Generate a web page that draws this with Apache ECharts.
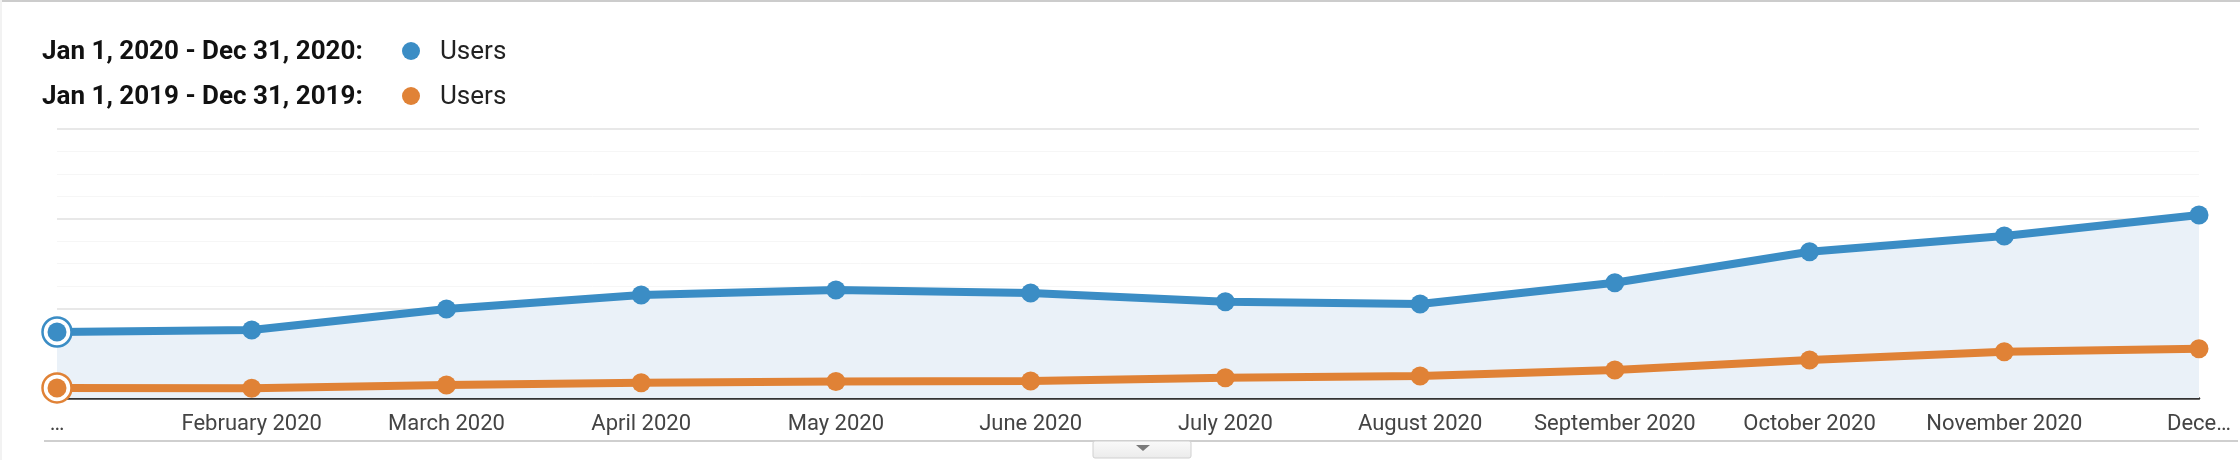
<!DOCTYPE html>
<html>
<head>
<meta charset="utf-8">
<script src="https://cdn.jsdelivr.net/npm/echarts@6/dist/echarts.min.js"></script>
<style>
html,body{margin:0;padding:0;background:#fff;}
#chart{width:2240px;height:460px;}
</style>
</head>
<body>
<div id="chart"></div>
<script>
// months on the x axis
var months = ['January 2020','February 2020','March 2020','April 2020','May 2020','June 2020',
	'July 2020','August 2020','September 2020','October 2020','November 2020','December 2020'];
// users, current year (axis scale has no labels)
var users2020 = [73.6, 75.8, 99.3, 114.9, 120.4, 117.2, 107.4, 104.8, 128.6, 163.1, 180.6, 204.1];
// users, previous year
var users2019 = [11.2, 10.8, 14.5, 17.1, 18.5, 19.0, 22.6, 24.5, 31.2, 42.4, 51.6, 55.0];
var legendRanges = ['Jan 1, 2020 - Dec 31, 2020:', 'Jan 1, 2019 - Dec 31, 2019:'];
var metricName = 'Users';

var blue = '#3b8dc5', orange = '#e08236';
var font = 'Roboto, "Noto Sans", sans-serif';

var chart = echarts.init(document.getElementById('chart'));

function legendRow(y, label, color){
	return [
		{type:'text', left:42, top:y-12, style:{text:label, font:'bold 26px ' + font, fill:'#111'}},
		{type:'circle', shape:{cx:411, cy:y, r:9}, style:{fill:color}},
		{type:'text', left:440, top:y-12, style:{text:metricName, font:'26px ' + font, fill:'#222'}}
	];
}

var option = {
	backgroundColor:'#fff',
	animation:false,
	grid:{left:57, right:41, top:129, bottom:62},
	xAxis:{
		type:'category',
		boundaryGap:false,
		data:months,
		axisLine:{lineStyle:{color:'#333', width:2.5}},
		axisTick:{show:false},
		splitLine:{show:false},
		axisLabel:{
			interval:0,
			margin:15,
			color:'#444',
			fontFamily:font,
			fontSize:22,
			formatter:function(v, i){
				if(i == 0) return '\u2026';
				if(i == months.length-1) return v.substring(0,4) + '\u2026';
				return v;
			}
		}
	},
	yAxis:{
		type:'value',
		min:0, max:300, interval:100,
		axisLabel:{show:false},
		axisLine:{show:false},
		axisTick:{show:false},
		splitLine:{lineStyle:{color:'#e8e8e8', width:2}},
		minorTick:{show:false, splitNumber:4},
		minorSplitLine:{show:true, lineStyle:{color:'#f6f6f6', width:1}}
	},
	series:[
		{
			type:'line',
			data:users2020.map(function(v, i){
				if(i == 0) return {value:v, symbolSize:29, itemStyle:{color:'#fff', borderColor:blue, borderWidth:2.5}};
				return v;
			}),
			symbol:'circle', symbolSize:19,
			lineStyle:{color:blue, width:8},
			itemStyle:{color:blue},
			areaStyle:{color:'#eaf1f8', opacity:1},
			z:2
		},
		{
			type:'line',
			data:users2019.map(function(v, i){
				if(i == 0) return {value:v, symbolSize:29, itemStyle:{color:'#fff', borderColor:orange, borderWidth:2.5}};
				return v;
			}),
			symbol:'circle', symbolSize:19,
			lineStyle:{color:orange, width:8},
			itemStyle:{color:orange},
			z:2
		},
		// filled dots inside the rings of the first points
		{type:'scatter', data:[[0, users2020[0]]], symbolSize:19, itemStyle:{color:blue, opacity:1}, z:4},
		{type:'scatter', data:[[0, users2019[0]]], symbolSize:19, itemStyle:{color:orange, opacity:1}, z:4}
	],
	graphic:[
		{type:'rect', shape:{x:0, y:0, width:2240, height:2}, style:{fill:'#cccccc'}},
		{type:'rect', shape:{x:0, y:0, width:2, height:460}, style:{fill:'#f2f2f2'}},
		{type:'rect', shape:{x:44, y:440, width:2194, height:2}, style:{fill:'#cfcfcf'}},
		{type:'rect', shape:{x:1093, y:441, width:98, height:17, r:2},
			style:{fill:new echarts.graphic.LinearGradient(0,0,0,1,[{offset:0,color:'#fafafa'},{offset:1,color:'#ebebeb'}]), stroke:'#d0d0d0', lineWidth:1}},
		{type:'polygon', shape:{points:[[1136,445],[1150,445],[1143,451]]}, style:{fill:'#7a7a7a'}}
	].concat(legendRow(51, legendRanges[0], blue), legendRow(96, legendRanges[1], orange))
};

chart.setOption(option);
</script>
</body>
</html>
